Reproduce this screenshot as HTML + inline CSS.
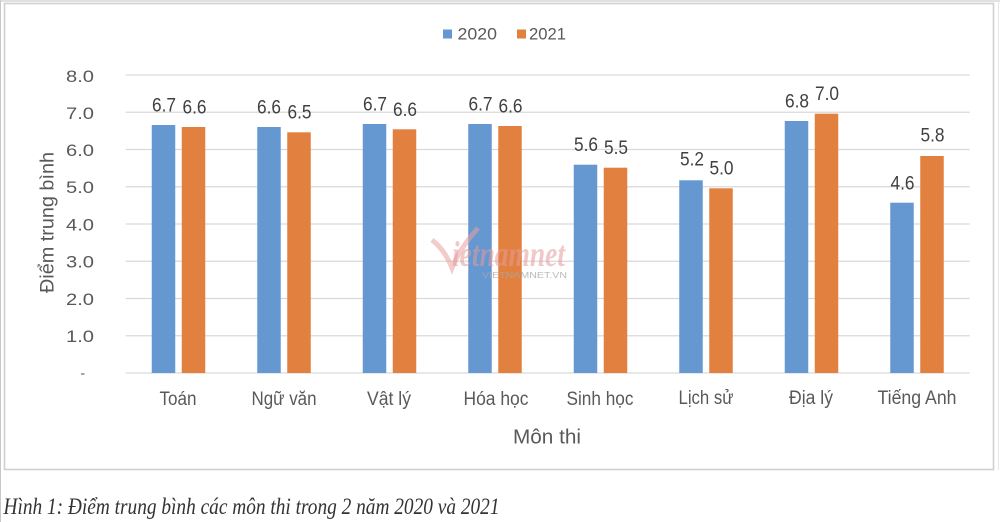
<!DOCTYPE html>
<html><head><meta charset="utf-8"><style>
html,body{margin:0;padding:0;background:#fff;}
svg{display:block;}
</style></head><body>
<svg width="1000" height="522" viewBox="0 0 1000 522" xmlns="http://www.w3.org/2000/svg" font-family="'Liberation Sans', sans-serif">
<rect x="0" y="0" width="1000" height="522" fill="#fff"/>
<!-- outer frame lines -->
<line x1="0.5" y1="0" x2="0.5" y2="522" stroke="#c8c8c8" stroke-width="1"/>
<line x1="0" y1="1" x2="1000" y2="1" stroke="#cfcfcf" stroke-width="1.2"/>
<line x1="998.5" y1="0" x2="998.5" y2="470" stroke="#e6e6e6" stroke-width="1"/>
<!-- chart box -->
<rect x="4.5" y="3.5" width="989" height="466" fill="#fff" stroke="#d0d0d0" stroke-width="1.6"/>

<!-- gridlines -->
<g stroke="#d9d9d9" stroke-width="1.2">
<line x1="125.75" y1="75" x2="969.75" y2="75"/>
<line x1="125.75" y1="112.25" x2="969.75" y2="112.25"/>
<line x1="125.75" y1="149.5" x2="969.75" y2="149.5"/>
<line x1="125.75" y1="186.75" x2="969.75" y2="186.75"/>
<line x1="125.75" y1="224" x2="969.75" y2="224"/>
<line x1="125.75" y1="261.25" x2="969.75" y2="261.25"/>
<line x1="125.75" y1="298.5" x2="969.75" y2="298.5"/>
<line x1="125.75" y1="335.75" x2="969.75" y2="335.75"/>
<line x1="125.75" y1="373" x2="969.75" y2="373"/>
</g>

<!-- y tick labels -->
<g fill="#595959" font-size="16.5" text-anchor="end">
<text x="94" y="82" textLength="28" lengthAdjust="spacingAndGlyphs">8.0</text>
<text x="94" y="119" textLength="28" lengthAdjust="spacingAndGlyphs">7.0</text>
<text x="94" y="156" textLength="28" lengthAdjust="spacingAndGlyphs">6.0</text>
<text x="94" y="193" textLength="28" lengthAdjust="spacingAndGlyphs">5.0</text>
<text x="94" y="230.5" textLength="28" lengthAdjust="spacingAndGlyphs">4.0</text>
<text x="94" y="267.5" textLength="28" lengthAdjust="spacingAndGlyphs">3.0</text>
<text x="94" y="305" textLength="28" lengthAdjust="spacingAndGlyphs">2.0</text>
<text x="94" y="342" textLength="28" lengthAdjust="spacingAndGlyphs">1.0</text>
</g>
<line x1="81" y1="374" x2="84.5" y2="374" stroke="#777" stroke-width="1.3"/>

<!-- y axis title -->
<text transform="translate(53.5,222.5) rotate(-90)" text-anchor="middle" fill="#595959" font-size="19" textLength="141" lengthAdjust="spacingAndGlyphs">Điểm trung bình</text>

<!-- bars -->
<g fill="#6597d1">
<rect x="151.75" y="125" width="23.5" height="248"/>
<rect x="257.25" y="127" width="23.5" height="246"/>
<rect x="362.75" y="124" width="23.5" height="249"/>
<rect x="468.25" y="124" width="23.5" height="249"/>
<rect x="573.75" y="164.7" width="23.5" height="208.3"/>
<rect x="679.25" y="180.3" width="23.5" height="192.7"/>
<rect x="784.75" y="121" width="23.5" height="252"/>
<rect x="890.25" y="202.7" width="23.5" height="170.3"/>
</g>
<g fill="#e2803f">
<rect x="181.75" y="127" width="23.5" height="246"/>
<rect x="287.25" y="132.3" width="23.5" height="240.7"/>
<rect x="392.75" y="129.3" width="23.5" height="243.7"/>
<rect x="498.25" y="126" width="23.5" height="247"/>
<rect x="603.75" y="167.7" width="23.5" height="205.3"/>
<rect x="709.25" y="188.3" width="23.5" height="184.7"/>
<rect x="814.75" y="113.7" width="23.5" height="259.3"/>
<rect x="920.25" y="156" width="23.5" height="217"/>
</g>

<!-- data labels -->
<g fill="#404040" font-size="19" text-anchor="middle">
<text x="164" y="111.5" textLength="24" lengthAdjust="spacingAndGlyphs">6.7</text>
<text x="194.5" y="113.5" textLength="24" lengthAdjust="spacingAndGlyphs">6.6</text>
<text x="269" y="113.5" textLength="24" lengthAdjust="spacingAndGlyphs">6.6</text>
<text x="299.5" y="118.5" textLength="24" lengthAdjust="spacingAndGlyphs">6.5</text>
<text x="375" y="110.5" textLength="24" lengthAdjust="spacingAndGlyphs">6.7</text>
<text x="405" y="115.8" textLength="24" lengthAdjust="spacingAndGlyphs">6.6</text>
<text x="480.5" y="110.5" textLength="24" lengthAdjust="spacingAndGlyphs">6.7</text>
<text x="510.5" y="112.5" textLength="24" lengthAdjust="spacingAndGlyphs">6.6</text>
<text x="586" y="151" textLength="24" lengthAdjust="spacingAndGlyphs">5.6</text>
<text x="616" y="154" textLength="24" lengthAdjust="spacingAndGlyphs">5.5</text>
<text x="692" y="165.5" textLength="24" lengthAdjust="spacingAndGlyphs">5.2</text>
<text x="721.5" y="174.5" textLength="24" lengthAdjust="spacingAndGlyphs">5.0</text>
<text x="797" y="107.3" textLength="24" lengthAdjust="spacingAndGlyphs">6.8</text>
<text x="827" y="100" textLength="24" lengthAdjust="spacingAndGlyphs">7.0</text>
<text x="902.5" y="189.3" textLength="24" lengthAdjust="spacingAndGlyphs">4.6</text>
<text x="932.5" y="141.7" textLength="24" lengthAdjust="spacingAndGlyphs">5.8</text>
</g>

<!-- watermark -->
<g>
<path d="M432 240 Q445 250 452 268 Q460 248 478 228" fill="none" stroke="#e9a0a0" stroke-opacity="0.55" stroke-width="5"/>
<text x="452" y="266" font-family="'Liberation Serif', serif" font-style="italic" font-weight="bold" font-size="36" fill="#e39a9a" fill-opacity="0.55" textLength="113" lengthAdjust="spacingAndGlyphs">ietnamnet</text>
<text x="482" y="278" font-size="8" fill="#a8a8a8" fill-opacity="0.8" textLength="85" lengthAdjust="spacingAndGlyphs">VIETNAMNET.VN</text>
</g>

<!-- category labels -->
<g fill="#595959" font-size="19" text-anchor="middle">
<text x="178" y="405" textLength="37" lengthAdjust="spacingAndGlyphs">Toán</text>
<text x="284" y="405" textLength="65" lengthAdjust="spacingAndGlyphs">Ngữ văn</text>
<text x="389" y="405" textLength="44" lengthAdjust="spacingAndGlyphs">Vật lý</text>
<text x="496" y="405" textLength="65" lengthAdjust="spacingAndGlyphs">Hóa học</text>
<text x="600" y="405" textLength="67" lengthAdjust="spacingAndGlyphs">Sinh học</text>
<text x="706" y="404" textLength="55" lengthAdjust="spacingAndGlyphs">Lịch sử</text>
<text x="811" y="404" textLength="44" lengthAdjust="spacingAndGlyphs">Địa lý</text>
<text x="917" y="404" textLength="79" lengthAdjust="spacingAndGlyphs">Tiếng Anh</text>
</g>
<text x="547" y="443.5" text-anchor="middle" fill="#595959" font-size="20" textLength="68" lengthAdjust="spacingAndGlyphs">Môn thi</text>

<!-- legend -->
<rect x="443" y="29.5" width="9" height="9" fill="#6597d1"/>
<text x="457.5" y="39.5" fill="#595959" font-size="17" textLength="39.5" lengthAdjust="spacingAndGlyphs">2020</text>
<rect x="517" y="29.5" width="9" height="9" fill="#e2803f"/>
<text x="529" y="39.5" fill="#595959" font-size="17" textLength="37" lengthAdjust="spacingAndGlyphs">2021</text>

<!-- caption -->
<text x="3.5" y="514" font-family="'Liberation Serif', serif" font-style="italic" font-size="23" fill="#333" textLength="496" lengthAdjust="spacingAndGlyphs">Hình 1: Điểm trung bình các môn thi trong 2 năm 2020 và 2021</text>
</svg>
</body></html>
